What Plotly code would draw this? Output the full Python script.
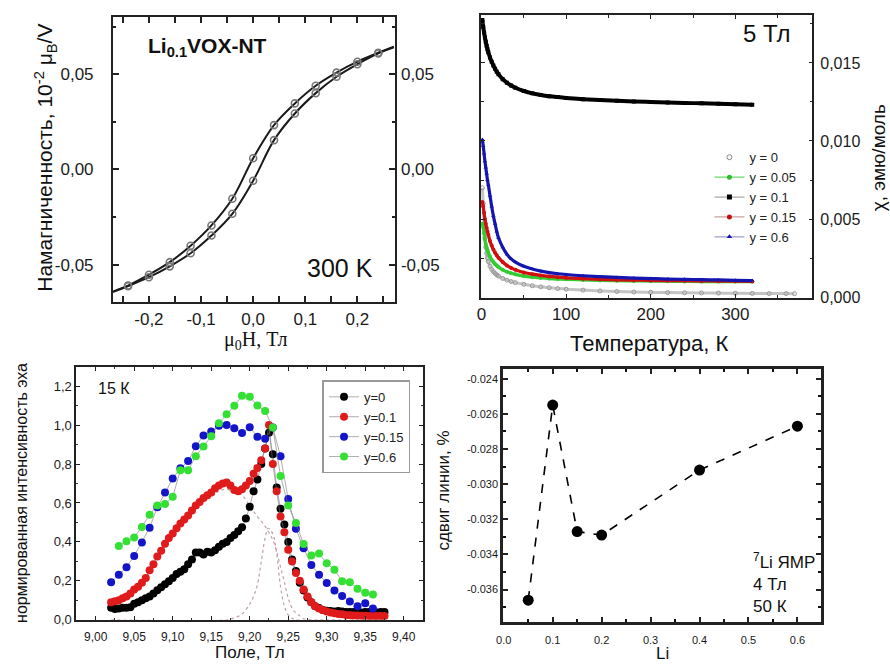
import plotly.graph_objects as go

W, H = 890, 668
FONT = "Liberation Sans"
SERIF = "Liberation Serif"
PAD = "\u00a0\u00a0\u00a0"

# ---------------- Panel 1: magnetisation loop ----------------
field_T = [-0.24, -0.20, -0.16, -0.12, -0.08, -0.04, 0.0, 0.04, 0.08, 0.12, 0.16, 0.20, 0.24]
m_upper = [-0.0610, -0.0553, -0.0487, -0.0401, -0.0294, -0.0154, 0.0059, 0.0233, 0.0347, 0.0440, 0.0509, 0.0566, 0.0613]
m_lower = [-0.0613, -0.0566, -0.0509, -0.0440, -0.0347, -0.0233, -0.0059, 0.0154, 0.0294, 0.0401, 0.0487, 0.0553, 0.0610]
field_line = [-0.27] + field_T + [0.27]
m_upper_line = [-0.0642] + m_upper + [0.0645]
m_lower_line = [-0.0645] + m_lower + [0.0642]
p1_xticks = [-0.2, -0.1, 0.0, 0.1, 0.2]
p1_xlabels = ["-0,2", "-0,1", "0,0", "0,1", "0,2"]
p1_yticks = [-0.05, 0.0, 0.05]
p1_ylabels = ["-0,05", "0,00", "0,05"]

# ---------------- Panel 2: susceptibility vs temperature ----------------
temp_K = [1, 2, 3, 4, 5, 6, 7, 8, 10, 12, 14, 16, 18, 20, 25, 30, 35, 40, 50, 60, 70, 80, 90, 100,
          120, 140, 160, 180, 200, 220, 240, 260, 280, 300, 320]
chi_y01 = [0.01775, 0.0173, 0.01695, 0.01663, 0.01635, 0.0161, 0.01588, 0.01568, 0.01535, 0.01507,
           0.01483, 0.01462, 0.01444, 0.01428, 0.01396, 0.01373, 0.01355, 0.01341, 0.01320, 0.01305,
           0.01295, 0.01287, 0.01281, 0.01276, 0.01268, 0.01262, 0.01257, 0.01253, 0.01250, 0.01247,
           0.01244, 0.01241, 0.01238, 0.01235, 0.01232]
chi_y06 = [0.0101, 0.0097, 0.0092, 0.0087, 0.0083, 0.0079, 0.0075, 0.0072, 0.0065, 0.0058, 0.0052,
           0.0047, 0.0042, 0.0038, 0.0032, 0.00275, 0.00245, 0.00225, 0.00198, 0.0018, 0.00167, 0.00157,
           0.0015, 0.00145, 0.00137, 0.00131, 0.00126, 0.00122, 0.00119, 0.00116, 0.00114, 0.00112,
           0.0011, 0.00108, 0.00106]
chi_y015 = [0.0061, 0.0058, 0.0054, 0.0050, 0.0047, 0.00445, 0.0042, 0.0040, 0.0036, 0.0033, 0.00305,
            0.00285, 0.00268, 0.00253, 0.00225, 0.00203, 0.00187, 0.00175, 0.00158, 0.00147, 0.00139,
            0.00133, 0.00128, 0.00124, 0.00118, 0.00114, 0.00111, 0.00109, 0.00107, 0.00106, 0.00105,
            0.00104, 0.00103, 0.00102, 0.00101]
chi_y005 = [0.0047, 0.0045, 0.0041, 0.0037, 0.0034, 0.00318, 0.0030, 0.00285, 0.0026, 0.0024, 0.00225,
            0.00212, 0.00202, 0.00193, 0.00175, 0.00162, 0.00153, 0.00146, 0.00135, 0.00128, 0.00123,
            0.00119, 0.00116, 0.00114, 0.0011, 0.00107, 0.00105, 0.00104, 0.00103, 0.00102, 0.00101,
            0.0010, 0.0010, 0.0010, 0.0010]
temp_y0 = temp_K + [340, 360, 370]
chi_y0 = [0.0070, 0.0060, 0.0047, 0.0038, 0.0032, 0.0028, 0.0025, 0.00228, 0.00198, 0.00178, 0.00163,
          0.00152, 0.00143, 0.00135, 0.0012, 0.00109, 0.0010, 0.00093, 0.00082, 0.00073, 0.00066, 0.0006,
          0.00055, 0.00051, 0.00045, 0.0004, 0.00036, 0.00033, 0.00031, 0.00029, 0.00028, 0.00027,
          0.00026, 0.00025, 0.00024, 0.00023, 0.00023, 0.00022]
p2_xticks = [0, 100, 200, 300]
p2_xlabels = ["0", "100", "200", "300"]
p2_yticks = [0.0, 0.005, 0.010, 0.015]
p2_ylabels = ["0,000", "0,005", "0,010", "0,015"]

# ---------------- Panel 3: NMR spectra ----------------
field_dense = [9.020, 9.025, 9.030, 9.035, 9.040, 9.045, 9.050, 9.055, 9.060, 9.065, 9.070, 9.075, 9.080,
               9.085, 9.090, 9.095, 9.100, 9.105, 9.110, 9.115, 9.120, 9.125, 9.130, 9.135, 9.140, 9.145,
               9.150, 9.155, 9.160, 9.165, 9.170, 9.175, 9.180, 9.185, 9.190, 9.195, 9.200, 9.205, 9.210,
               9.215, 9.220, 9.225, 9.230, 9.235, 9.240, 9.245, 9.250, 9.255, 9.260, 9.265, 9.270, 9.275,
               9.280, 9.285, 9.290, 9.295, 9.300, 9.305, 9.310, 9.315, 9.320, 9.325, 9.330, 9.335, 9.340,
               9.345, 9.350, 9.355, 9.360, 9.365, 9.370, 9.375]
int_y0 = [0.062, 0.055, 0.058, 0.062, 0.062, 0.065, 0.082, 0.090, 0.100, 0.110, 0.120, 0.135, 0.152,
          0.167, 0.182, 0.198, 0.215, 0.235, 0.247, 0.260, 0.285, 0.310, 0.345, 0.345, 0.335, 0.350,
          0.345, 0.357, 0.375, 0.390, 0.400, 0.420, 0.435, 0.455, 0.475, 0.520, 0.580, 0.660, 0.720,
          0.800, 0.880, 0.960, 0.850, 0.680, 0.570, 0.490, 0.400, 0.310, 0.250, 0.190, 0.150, 0.115,
          0.090, 0.070, 0.060, 0.050, 0.047, 0.045, 0.043, 0.045, 0.042, 0.040, 0.040, 0.040, 0.040,
          0.038, 0.040, 0.040, 0.040, 0.038, 0.040, 0.040]
int_y01 = [0.090, 0.095, 0.100, 0.110, 0.120, 0.135, 0.155, 0.170, 0.190, 0.215, 0.255, 0.285, 0.325,
           0.355, 0.390, 0.420, 0.443, 0.470, 0.495, 0.515, 0.535, 0.561, 0.587, 0.605, 0.625, 0.640,
           0.654, 0.675, 0.690, 0.700, 0.705, 0.690, 0.666, 0.660, 0.670, 0.690, 0.713, 0.750, 0.780,
           0.820, 0.880, 1.000, 0.800, 0.660, 0.530, 0.450, 0.360, 0.300, 0.240, 0.200, 0.155, 0.120,
           0.090, 0.070, 0.058, 0.050, 0.043, 0.037, 0.033, 0.030, 0.028, 0.025, 0.023, 0.022, 0.022,
           0.021, 0.021, 0.020, 0.020, 0.020, 0.020, 0.020]
field_sparse_b = [9.02, 9.03, 9.04, 9.05, 9.06, 9.07, 9.08, 9.09, 9.10, 9.11, 9.12, 9.13, 9.14, 9.15, 9.16,
                  9.17, 9.18, 9.19, 9.20, 9.21, 9.22, 9.23, 9.24, 9.25, 9.26, 9.27, 9.28, 9.29, 9.30, 9.31,
                  9.32, 9.33, 9.34, 9.35, 9.36]
int_y015 = [0.193, 0.231, 0.270, 0.328, 0.397, 0.473, 0.578, 0.654, 0.725, 0.778, 0.815, 0.891, 0.947,
            0.967, 0.997, 1.000, 0.984, 0.959, 0.989, 0.940, 0.930, 0.987, 0.840, 0.620, 0.468, 0.367,
            0.282, 0.231, 0.189, 0.150, 0.122, 0.094, 0.070, 0.085, 0.058]
field_sparse_g = [9.03, 9.04, 9.05, 9.06, 9.07, 9.08, 9.09, 9.10, 9.11, 9.12, 9.13, 9.14, 9.15, 9.16, 9.17,
                  9.18, 9.19, 9.20, 9.21, 9.22, 9.23, 9.24, 9.25, 9.26, 9.27, 9.28, 9.29, 9.30, 9.31, 9.32,
                  9.33, 9.34, 9.35, 9.36]
int_y06 = [0.379, 0.404, 0.423, 0.477, 0.540, 0.587, 0.595, 0.632, 0.768, 0.768, 0.840, 0.890, 0.942,
           1.010, 1.055, 1.099, 1.150, 1.145, 1.100, 1.072, 0.987, 0.739, 0.587, 0.497, 0.389, 0.330,
           0.340, 0.290, 0.257, 0.198, 0.193, 0.159, 0.139, 0.130]
field_broad = [9.02, 9.04, 9.06, 9.08, 9.10, 9.12, 9.14, 9.16, 9.17, 9.18, 9.19, 9.20, 9.21, 9.22, 9.23,
               9.235, 9.24, 9.245, 9.25, 9.255, 9.26, 9.265, 9.27, 9.28, 9.30, 9.375]
int_broad = [0.080, 0.115, 0.185, 0.320, 0.430, 0.520, 0.610, 0.660, 0.670, 0.655, 0.640, 0.585, 0.530,
             0.480, 0.410, 0.350, 0.270, 0.195, 0.110, 0.060, 0.035, 0.020, 0.005, 0.0, 0.0, 0.0]
field_narrow = [9.02, 9.17, 9.18, 9.19, 9.20, 9.205, 9.21, 9.215, 9.22, 9.224, 9.23, 9.235, 9.24, 9.245,
                9.25, 9.255, 9.26, 9.375]
int_narrow = [0.0, 0.0, 0.01, 0.03, 0.08, 0.12, 0.18, 0.30, 0.42, 0.47, 0.44, 0.34, 0.17, 0.07, 0.025,
              0.008, 0.0, 0.0]
p3_xticks = [9.00, 9.05, 9.10, 9.15, 9.20, 9.25, 9.30, 9.35, 9.40]
p3_xlabels = ["9,00", "9,05", "9,10", "9,15", "9,20", "9,25", "9,30", "9,35", "9,40"]
p3_yticks = [0.0, 0.2, 0.4, 0.6, 0.8, 1.0, 1.2]
p3_ylabels = ["0,0", "0,2", "0,4", "0,6", "0,8", "1,0", "1,2"]

# ---------------- Panel 4: line shift vs Li ----------------
li_content = [0.05, 0.10, 0.15, 0.20, 0.40, 0.60]
line_shift = [-0.0366, -0.0255, -0.0327, -0.0329, -0.0292, -0.0267]
p4_xticks = [0.0, 0.1, 0.2, 0.3, 0.4, 0.5, 0.6]
p4_xlabels = ["0.0", "0.1", "0.2", "0.3", "0.4", "0.5", "0.6"]
p4_yticks = [-0.024, -0.026, -0.028, -0.030, -0.032, -0.034, -0.036]
p4_ylabels = ["-0.024", "-0.026", "-0.028", "-0.030", "-0.032", "-0.034", "-0.036"]


def dom_x(a, b):
    return [a / W, b / W]


def dom_y(top, bottom):
    return [1 - bottom / H, 1 - top / H]


fig = go.Figure()

# Panel 1
for xs, ys in [(field_line, m_upper_line), (field_line, m_lower_line)]:
    fig.add_trace(go.Scatter(x=xs, y=ys, mode="lines", line=dict(color="#1a1a1a", width=2, shape="spline"),
                             xaxis="x", yaxis="y", showlegend=False, hoverinfo="skip"))
for ys in [m_upper, m_lower]:
    fig.add_trace(go.Scatter(x=field_T, y=ys, mode="markers",
                             marker=dict(symbol="circle-open", size=7, color="#777", line=dict(width=1.6)),
                             xaxis="x", yaxis="y", showlegend=False))
# invisible trace so that the right-hand label axis is drawn
fig.add_trace(go.Scatter(x=field_T, y=m_upper, mode="markers", marker=dict(opacity=0),
                         xaxis="x", yaxis="y5", showlegend=False, hoverinfo="skip"))

# Panel 2 curves
fig.add_trace(go.Scatter(x=temp_y0, y=chi_y0, mode="lines+markers",
                         line=dict(color="#c4c4c4", width=3, shape="spline"),
                         marker=dict(symbol="circle-open", size=4, color="#999"),
                         xaxis="x2", yaxis="y2", showlegend=False))
for ys, col, sym, lw in [(chi_y005, "#33cc33", "circle", 3.2), (chi_y015, "#d01010", "circle", 3.2),
                         (chi_y06, "#1515b0", "triangle-up", 3.2), (chi_y01, "#000000", "square", 4)]:
    fig.add_trace(go.Scatter(x=temp_K, y=ys, mode="lines+markers",
                             line=dict(color=col, width=lw, shape="spline"),
                             marker=dict(symbol=sym, size=4, color=col),
                             xaxis="x2", yaxis="y2", showlegend=False))
# Panel 2 legend entries
leg2 = [("y = 0", None, "#888", "circle-open"), ("y = 0.05", "#66dd66", "#33bb33", "circle"),
        ("y = 0.1", "#aaaaaa", "#000", "square"), ("y = 0.15", "#c9a0a0", "#c01010", "circle"),
        ("y = 0.6", "#a0a0c8", "#1515b0", "triangle-up")]
for name, lc, mc, sym in leg2:
    fig.add_trace(go.Scatter(x=[None], y=[None], name=name,
                             mode="markers" if lc is None else "lines+markers",
                             line=dict(color=lc or "#fff", width=1.2),
                             marker=dict(symbol=sym, size=5, color=mc),
                             xaxis="x2", yaxis="y2", legend="legend"))

# Panel 3
for xs, ys in [(field_broad, int_broad), (field_narrow, int_narrow)]:
    fig.add_trace(go.Scatter(x=xs, y=ys, mode="lines", line=dict(color="#c0a0a8", width=1.2, dash="dot",
                                                                  shape="spline"),
                             xaxis="x3", yaxis="y3", showlegend=False))
p3_series = [(field_dense, int_y0, "#000000", "y=0"), (field_dense, int_y01, "#e01b1b", "y=0.1"),
             (field_sparse_b, int_y015, "#1414c8", "y=0.15"), (field_sparse_g, int_y06, "#33e033", "y=0.6")]
for xs, ys, col, name in p3_series:
    fig.add_trace(go.Scatter(x=xs, y=ys, mode="lines+markers", name=name,
                             line=dict(color="rgba(120,120,120,0.6)", width=1),
                             marker=dict(symbol="circle", size=8, color=col),
                             xaxis="x3", yaxis="y3", legend="legend2"))

# Panel 4
fig.add_trace(go.Scatter(x=li_content, y=line_shift, mode="lines+markers",
                         line=dict(color="#000", width=1.6, dash="dash"),
                         marker=dict(symbol="circle", size=11, color="#000"),
                         xaxis="x4", yaxis="y4", showlegend=False))

tick_common = dict(showgrid=False, zeroline=False, showline=True, mirror="allticks", ticks="inside",
                   tickcolor="#222", linecolor="#222", tickmode="array")

fig.update_layout(
    width=W, height=H, margin=dict(l=0, r=0, t=0, b=0),
    paper_bgcolor="white", plot_bgcolor="white",
    font=dict(family=FONT, color="#1a1a1a"),
    xaxis=dict(domain=dom_x(107, 391), anchor="y", range=[-0.2686, 0.272], tickvals=p1_xticks,
               ticktext=p1_xlabels, ticklen=6, tickwidth=1.5, linewidth=2, tickfont=dict(size=17),
               minor=dict(dtick=0.05, ticklen=3, ticks="inside", tickcolor="#222"), **tick_common),
    yaxis=dict(domain=dom_y(17, 306), anchor="x", range=[-0.0698, 0.0802], tickvals=p1_yticks,
               ticktext=[t + PAD for t in p1_ylabels], ticklen=6, tickwidth=1.5, linewidth=2,
               tickfont=dict(size=17),
               minor=dict(dtick=0.025, ticklen=3, ticks="inside", tickcolor="#222"), **tick_common),
    yaxis5=dict(overlaying="y", anchor="x", side="right", range=[-0.0698, 0.0802], tickmode="array",
                tickvals=p1_yticks, ticktext=p1_ylabels, showgrid=False, zeroline=False, showline=False,
                ticks="", tickfont=dict(size=17), ticklabelstandoff=5),
    xaxis2=dict(domain=dom_x(477.7, 811.7), anchor="y2", range=[-0.7, 391], tickvals=p2_xticks,
                ticktext=p2_xlabels, ticklen=4, tickwidth=1.2, linewidth=1.5, tickfont=dict(size=17),
                minor=dict(dtick=50, ticklen=3, ticks="inside", tickcolor="#222"), **tick_common),
    yaxis2=dict(domain=dom_y(15, 301.7), anchor="x2", side="right", range=[-0.00006, 0.01808],
                tickvals=p2_yticks, ticktext=p2_ylabels, ticklen=4, tickwidth=1.2, linewidth=1.5,
                tickfont=dict(size=16), ticklabelstandoff=3,
                minor=dict(dtick=0.0025, ticklen=3, ticks="inside", tickcolor="#222"), **tick_common),
    xaxis3=dict(domain=dom_x(70, 419.3), anchor="y3", range=[8.975, 9.425], tickvals=p3_xticks,
                ticktext=p3_xlabels, ticklen=4, tickwidth=1.2, linewidth=2, tickfont=dict(size=12),
                ticklabelstandoff=5,
                minor=dict(dtick=0.025, ticklen=2, ticks="inside", tickcolor="#333"), **tick_common),
    yaxis3=dict(domain=dom_y(371.7, 627.3), anchor="x3", range=[0, 1.297], tickvals=p3_yticks,
                ticktext=p3_ylabels, ticklen=4, tickwidth=1.2, linewidth=2, tickfont=dict(size=13),
                minor=dict(dtick=0.1, ticklen=2, ticks="inside", tickcolor="#333"), **tick_common),
    xaxis4=dict(domain=dom_x(500, 820.7), anchor="y4", range=[-0.0014, 0.6487], tickvals=p4_xticks,
                ticktext=p4_xlabels, ticklen=5, tickwidth=1.5, linewidth=2.5, tickfont=dict(size=11),
                ticklabelstandoff=6,
                minor=dict(dtick=0.05, ticklen=3, ticks="inside", tickcolor="#111"), **tick_common),
    yaxis4=dict(domain=dom_y(373.3, 629.3), anchor="x4", range=[-0.03783, -0.02344], tickvals=p4_yticks,
                ticktext=p4_ylabels, ticklen=5, tickwidth=1.5, linewidth=2.5, tickfont=dict(size=11),
                minor=dict(dtick=0.001, ticklen=3, ticks="inside", tickcolor="#111"), **tick_common),
    legend=dict(x=708 / W, y=1 - 144 / H, xanchor="left", yanchor="top", bgcolor="rgba(0,0,0,0)",
                font=dict(size=13, color="#222"), tracegroupgap=0, itemwidth=30),
    legend2=dict(x=318 / W, y=1 - 385 / H, xanchor="left", yanchor="top", bgcolor="white",
                 bordercolor="#999", borderwidth=1.5, font=dict(size=13, color="#222"),
                 tracegroupgap=0, itemwidth=30),
)


def ann(text, px, py, size, angle=0, family=FONT, xanchor="center", align="center", bold=False):
    fig.add_annotation(text=f"<b>{text}</b>" if bold else text, x=px / W, y=1 - py / H,
                       xref="paper", yref="paper", showarrow=False, textangle=angle,
                       xanchor=xanchor, yanchor="middle", align=align,
                       font=dict(size=size, family=family, color="#111"))


# Panel 1 texts
ann("Намагниченность, 10<sup>-2</sup> μ<sub>B</sub>/V", 38, 160, 21, angle=-90)
ann("μ<sub>0</sub>H, Тл", 250, 345, 20, family=SERIF)
ann("Li<sub>0.1</sub>VOX-NT", 202, 48, 21, bold=True)
ann("300 K", 336, 271, 25)
# Panel 2 texts
ann("5 Тл", 766, 34, 24)
ann("χ, эмю/моль", 878, 160, 19, angle=-90)
ann("Температура, К", 647, 348, 22)
# Panel 3 texts
ann("нормированная интенсивность эха", 14, 499, 16, angle=-90)
ann("Поле, Тл", 245, 660, 17)
ann("15 К", 108, 393, 16)
# Panel 4 texts
ann("сдвиг линии, %", 440, 497, 17, angle=-90)
ann("Li", 661, 661, 17)
ann("<sup>7</sup>Li ЯМР<br>4 Тл<br>50 К", 750, 590, 17, xanchor="left", align="left")

fig.write_html("out.html")
